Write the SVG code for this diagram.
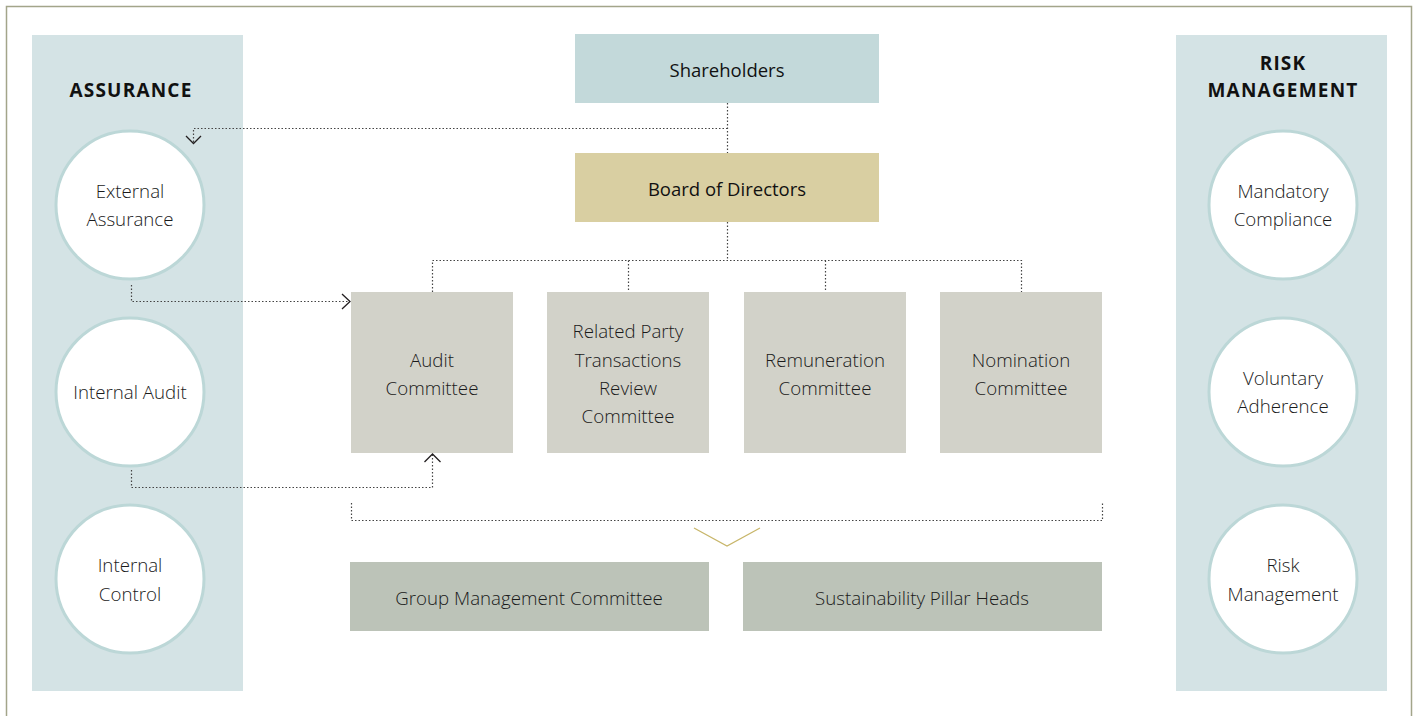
<svg xmlns="http://www.w3.org/2000/svg" width="1416" height="716" viewBox="0 0 1416 716">
<defs>
<style>
.panel{fill:#d4e3e5}
.circ{fill:#ffffff;stroke:#bcd7d7;stroke-width:3}
.t{font-family:"Open Sans","Noto Sans",sans-serif;font-size:18.7px;fill:#1a1a1a;text-anchor:middle;font-weight:300}
.tm{font-family:"Open Sans","Noto Sans",sans-serif;font-size:18.5px;fill:#111111;text-anchor:middle;font-weight:400}
.h{font-family:"Open Sans","Noto Sans",sans-serif;font-size:19px;fill:#111111;text-anchor:middle;font-weight:700;letter-spacing:1.2px}
.com{fill:#d2d2c9}
.dot{fill:none;stroke:#444;stroke-width:1.2;stroke-dasharray:1.5 2}
.arr{fill:none;stroke:#231f20;stroke-width:1.3}
</style>
</defs>
<rect width="1416" height="716" fill="#ffffff"/>
<path d="M6.5 716 V6.5 H1411.5 V716" fill="none" stroke="#a3a58a" stroke-width="1.5"/>

<g id="assurance-panel">
<rect class="panel" x="32" y="35" width="211" height="656"/>
<text class="h" x="131" y="97">ASSURANCE</text>
</g>
<g id="external-assurance">
<circle class="circ" cx="130" cy="205" r="74"/>
<text class="t" x="130" y="198">External</text>
<text class="t" x="130" y="226">Assurance</text>
</g>
<g id="internal-audit">
<circle class="circ" cx="130" cy="392" r="74"/>
<text class="t" x="130" y="399">Internal Audit</text>
</g>
<g id="internal-control">
<circle class="circ" cx="130" cy="579" r="74"/>
<text class="t" x="130" y="572">Internal</text>
<text class="t" x="130" y="601">Control</text>
</g>

<g id="risk-panel">
<rect class="panel" x="1176" y="35" width="211" height="656"/>
<text class="h" x="1283" y="70">RISK</text>
<text class="h" x="1283" y="97">MANAGEMENT</text>
</g>
<g id="mandatory-compliance">
<circle class="circ" cx="1283" cy="205" r="74"/>
<text class="t" x="1283" y="198">Mandatory</text>
<text class="t" x="1283" y="226">Compliance</text>
</g>
<g id="voluntary-adherence">
<circle class="circ" cx="1283" cy="392" r="74"/>
<text class="t" x="1283" y="385">Voluntary</text>
<text class="t" x="1283" y="413">Adherence</text>
</g>
<g id="risk-management">
<circle class="circ" cx="1283" cy="579" r="74"/>
<text class="t" x="1283" y="572">Risk</text>
<text class="t" x="1283" y="601">Management</text>
</g>

<g id="shareholders">
<rect x="575" y="34" width="304" height="69" fill="#c3d9da"/>
<text class="tm" x="727" y="77">Shareholders</text>
</g>
<g id="board">
<rect x="575" y="153" width="304" height="69" fill="#d9cfa2"/>
<text class="tm" x="727" y="196">Board of Directors</text>
</g>
<g id="audit-committee">
<rect class="com" x="351" y="292" width="162" height="161"/>
<text class="t" x="432" y="367">Audit</text>
<text class="t" x="432" y="395">Committee</text>
</g>
<g id="rpt-committee">
<rect class="com" x="547" y="292" width="162" height="161"/>
<text class="t" x="628" y="338">Related Party</text>
<text class="t" x="628" y="367">Transactions</text>
<text class="t" x="628" y="395">Review</text>
<text class="t" x="628" y="423">Committee</text>
</g>
<g id="remuneration-committee">
<rect class="com" x="744" y="292" width="162" height="161"/>
<text class="t" x="825" y="367">Remuneration</text>
<text class="t" x="825" y="395">Committee</text>
</g>
<g id="nomination-committee">
<rect class="com" x="940" y="292" width="162" height="161"/>
<text class="t" x="1021" y="367">Nomination</text>
<text class="t" x="1021" y="395">Committee</text>
</g>
<g id="group-management">
<rect x="350" y="562" width="359" height="69" fill="#bcc3b8"/>
<text class="t" x="529" y="605">Group Management Committee</text>
</g>
<g id="sustainability">
<rect x="743" y="562" width="359" height="69" fill="#bcc3b8"/>
<text class="t" x="922" y="605">Sustainability Pillar Heads</text>
</g>

<g id="connectors">
<path class="dot" d="M727.5 103 V153"/>
<path class="dot" d="M727.5 128.5 H193.5 V143"/>
<path class="arr" d="M186 136 L193.5 143.5 L201 136"/>
<path class="dot" d="M727.5 222 V260.5 M432.5 292 V260.5 H1021.5 V292 M628.5 260.5 V292 M825.5 260.5 V292"/>
<path class="dot" d="M131.5 285 V301.5 H350"/>
<path class="arr" d="M342 294 L350 301.5 L342 309"/>
<path class="dot" d="M131.5 470 V487.5 H432.5 V455"/>
<path class="arr" d="M424.5 462 L432.5 454 L440.5 462"/>
<path class="dot" d="M351.5 503 V520.5 H1102.5 V503"/>
<path d="M694 528 L727 546 L760 528" fill="none" stroke="#c8b66a" stroke-width="1.3"/>
</g>
</svg>
